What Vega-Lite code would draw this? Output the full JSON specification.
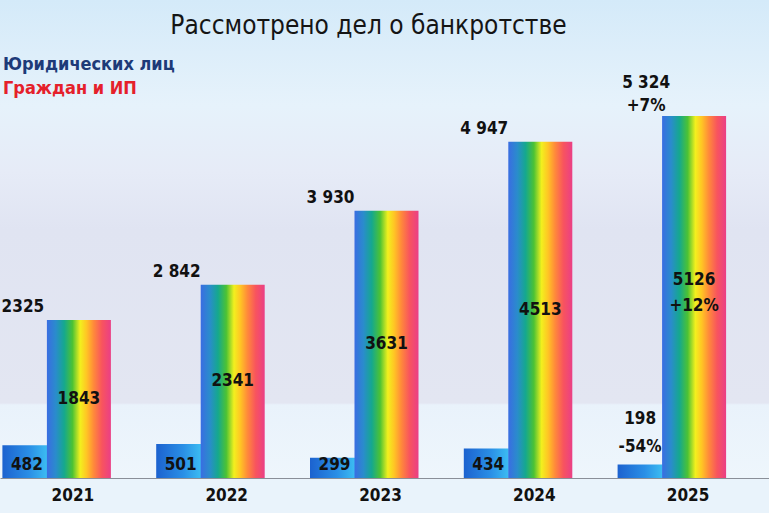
{
  "$schema": "https://vega.github.io/schema/vega-lite/v6.json",
  "width": 769,
  "height": 478,
  "autosize": {"type": "none"},
  "padding": {"left": 0, "top": 0, "right": 0, "bottom": 35},
  "background": "#e9f3fb",
  "title": {
    "text": "Рассмотрено  дел о банкротстве",
    "anchor": "middle",
    "dx": -16,
    "offset": -39,
    "font": "DejaVu Sans Condensed",
    "fontSize": 26,
    "fontWeight": "normal",
    "color": "#151515"
  },
  "config": {
    "view": {"stroke": null},
    "text": {"font": "DejaVu Sans Condensed", "fontSize": 17, "fontWeight": "bold", "color": "#111111"}
  },
  "datasets": {
    "cases": [
      {"year": "2021", "legal": 482, "citizens": 1843, "total": 2325, "totalLabel": "2325", "citizensLabel": "1843", "legalLabel": "482"},
      {"year": "2022", "legal": 501, "citizens": 2341, "total": 2842, "totalLabel": "2 842", "citizensLabel": "2341", "legalLabel": "501"},
      {"year": "2023", "legal": 299, "citizens": 3631, "total": 3930, "totalLabel": "3 930", "citizensLabel": "3631", "legalLabel": "299"},
      {"year": "2024", "legal": 434, "citizens": 4513, "total": 4947, "totalLabel": "4 947", "citizensLabel": "4513", "legalLabel": "434"},
      {"year": "2025", "legal": 198, "citizens": 5126, "total": 5324, "totalLabel": "5 324\n+7%", "citizensLabel": "5126\n+12%", "legalLabel": "198\n-54%"}
    ],
    "series": [
      {"series": "Юридических лиц"},
      {"series": "Граждан и ИП"}
    ]
  },
  "data": {"name": "cases"},
  "encoding": {
    "x": {
      "field": "year",
      "type": "ordinal",
      "scale": {"paddingInner": 0, "paddingOuter": 0},
      "axis": {
        "title": null,
        "labelAngle": 0,
        "ticks": false,
        "domainColor": "#8a8f98",
        "domainWidth": 1.2,
        "labelFont": "DejaVu Sans Condensed",
        "labelFontSize": 17,
        "labelFontWeight": "bold",
        "labelColor": "#111111",
        "labelPadding": 9,
        "labelOffset": -4
      }
    }
  },
  "layer": [
    {
      "data": {"values": [{}]},
      "mark": {
        "type": "rect",
        "fill": {
          "gradient": "linear",
          "x1": 0, "y1": 0, "x2": 0, "y2": 1,
          "stops": [
            {"offset": 0, "color": "#d4eaf9"},
            {"offset": 0.22, "color": "#e6f2fb"},
            {"offset": 0.36, "color": "#e6ebf7"},
            {"offset": 0.48, "color": "#e0e4f2"},
            {"offset": 0.843, "color": "#e3e6f2"},
            {"offset": 0.847, "color": "#e9f2fb"},
            {"offset": 1, "color": "#eef6fc"}
          ]
        }
      },
      "encoding": {"x": null}
    },
    {
      "mark": {
        "type": "bar",
        "width": 45,
        "xOffset": -52,
        "fill": {
          "gradient": "linear",
          "x1": 0, "y1": 0, "x2": 1, "y2": 0,
          "stops": [
            {"offset": 0, "color": "#1c62cf"},
            {"offset": 0.6, "color": "#2a8fe6"},
            {"offset": 1, "color": "#3cbdf2"}
          ]
        }
      },
      "encoding": {
        "y": {"field": "legal", "type": "quantitative", "scale": {"domain": [0, 7030], "nice": false, "zero": true}, "axis": null}
      }
    },
    {
      "mark": {
        "type": "bar",
        "width": 64,
        "xOffset": 2,
        "fill": {
          "gradient": "linear",
          "x1": 0, "y1": 0, "x2": 1, "y2": 0,
          "stops": [
            {"offset": 0, "color": "#3a6de2"},
            {"offset": 0.14, "color": "#2a8ccc"},
            {"offset": 0.27, "color": "#15a88e"},
            {"offset": 0.4, "color": "#4cc234"},
            {"offset": 0.52, "color": "#f2f01e"},
            {"offset": 0.62, "color": "#ffc524"},
            {"offset": 0.73, "color": "#ff8a3a"},
            {"offset": 0.86, "color": "#f8545e"},
            {"offset": 1, "color": "#ea3f86"}
          ]
        }
      },
      "encoding": {
        "y": {"field": "total", "type": "quantitative", "scale": {"domain": [0, 7030], "nice": false, "zero": true}, "axis": null}
      }
    },
    {
      "transform": [{"filter": "datum.year != '2025'"}],
      "mark": {"type": "text", "xOffset": -54, "baseline": "bottom", "dy": -4},
      "encoding": {
        "y": {"field": "total", "type": "quantitative"},
        "text": {"field": "totalLabel"}
      }
    },
    {
      "transform": [{"filter": "datum.year == '2025'"}],
      "mark": {"type": "text", "xOffset": -46, "baseline": "bottom", "dy": -24, "lineBreak": "\n", "lineHeight": 23},
      "encoding": {
        "y": {"field": "total", "type": "quantitative"},
        "text": {"field": "totalLabel"}
      }
    },
    {
      "transform": [{"filter": "datum.year != '2025'"}, {"calculate": "datum.total / 2", "as": "mid"}],
      "mark": {"type": "text", "xOffset": 2, "baseline": "middle"},
      "encoding": {
        "y": {"field": "mid", "type": "quantitative"},
        "text": {"field": "citizensLabel"}
      }
    },
    {
      "transform": [{"filter": "datum.year == '2025'"}, {"calculate": "datum.total / 2", "as": "mid"}],
      "mark": {"type": "text", "xOffset": 2, "baseline": "middle", "dy": -17, "lineBreak": "\n", "lineHeight": 26},
      "encoding": {
        "y": {"field": "mid", "type": "quantitative"},
        "text": {"field": "citizensLabel"}
      }
    },
    {
      "transform": [{"filter": "datum.year != '2025'"}],
      "mark": {"type": "text", "xOffset": -50, "baseline": "middle", "dy": -13},
      "encoding": {
        "y": {"datum": 0, "type": "quantitative"},
        "text": {"field": "legalLabel"}
      }
    },
    {
      "transform": [{"filter": "datum.year == '2025'"}],
      "mark": {"type": "text", "xOffset": -52, "baseline": "bottom", "dy": -37, "lineBreak": "\n", "lineHeight": 28},
      "encoding": {
        "y": {"field": "legal", "type": "quantitative"},
        "text": {"field": "legalLabel"}
      }
    },
    {
      "data": {"name": "series"},
      "mark": {"type": "point", "opacity": 0},
      "encoding": {
        "x": null,
        "color": {
          "field": "series",
          "type": "nominal",
          "scale": {"domain": ["Юридических лиц", "Граждан и ИП"], "range": ["#1d3a78", "#e5202a"]},
          "legend": {
            "title": null,
            "orient": "none",
            "legendX": -15,
            "legendY": 56,
            "padding": 0,
            "symbolSize": 0,
            "symbolOpacity": 0,
            "symbolStrokeWidth": 0,
            "labelOffset": 0,
            "labelFont": "DejaVu Sans Condensed",
            "labelFontSize": 18,
            "labelFontWeight": "bold",
            "rowPadding": 6,
            "labelLimit": 300,
            "labelColor": {"expr": "datum.label == 'Юридических лиц' ? '#1d3a78' : '#e5202a'"}
          }
        }
      }
    }
  ]
}
